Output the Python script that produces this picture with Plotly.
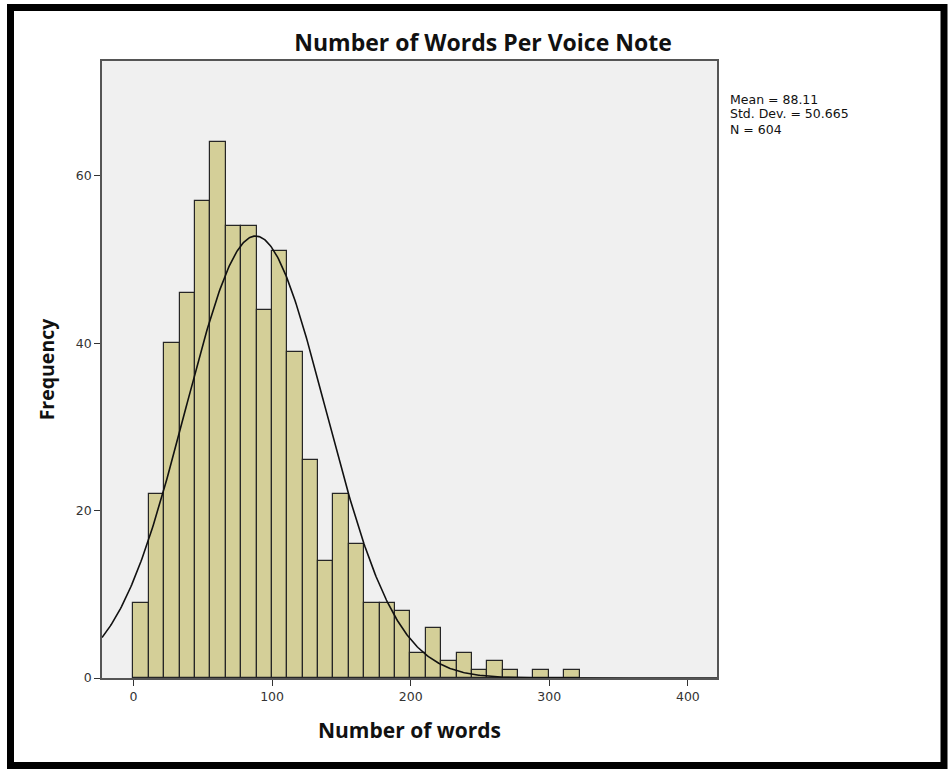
import numpy as np
import plotly.graph_objects as go

# ---- data ----
bin_start = 0.0
bin_width = 11.1
counts = [9, 22, 40, 46, 57, 64, 54, 54, 44, 51, 39, 26, 14, 22, 16,
          9, 9, 8, 3, 6, 2, 3, 1, 2, 1, 0, 1, 0, 1]
mean_val = 88.11
std_val = 50.665
n_val = 604
x_ticks = [0, 100, 200, 300, 400]
y_ticks = [0, 20, 40, 60]
stat_lines = [f"Mean = {mean_val}", f"Std. Dev. = {std_val}", f"N = {n_val}"]

# ---- layout geometry ----
W, H = 949, 769
L, R, T, B = 102, 232, 61, 91
pw, ph = W - L - R, H - T - B

def px(x):
    return (x - L) / pw

def py(y):
    return (H - B - y) / ph

x_range = [-22.7, 421]
y_range = [0, 73.7]

centers = [bin_start + bin_width * (i + 0.5) for i in range(len(counts))]

xs = np.linspace(x_range[0], x_range[1], 600)
ys = n_val * bin_width / (std_val * np.sqrt(2 * np.pi)) * np.exp(-0.5 * ((xs - mean_val) / std_val) ** 2)

fig = go.Figure()
fig.add_trace(go.Bar(
    x=centers, y=counts, width=bin_width,
    marker=dict(color="#D4CF98", line=dict(color="#262626", width=1.2)),
    hoverinfo="x+y", showlegend=False,
))
fig.add_trace(go.Scatter(
    x=xs, y=ys, mode="lines",
    line=dict(color="#111111", width=1.6), showlegend=False, hoverinfo="skip",
))

axis_common = dict(
    showgrid=False, zeroline=False, showline=True, mirror=True,
    linecolor="#555555", linewidth=1.5,
    ticks="outside", ticklen=6, tickwidth=1.3, tickcolor="#333333",
    tickfont=dict(family="DejaVu Sans", size=12.5, color="#333333"),
)

annotations = []
for i, line in enumerate(stat_lines):
    annotations.append(dict(
        text=line, xref="paper", yref="paper", x=px(728), y=py(99 + 15 * i),
        xanchor="left", yanchor="middle", align="left", showarrow=False,
        font=dict(family="DejaVu Sans", size=12.5, color="#111111"),
    ))

fig.update_layout(
    width=W, height=H,
    margin=dict(l=L, r=R, t=T, b=B, pad=0),
    paper_bgcolor="white", plot_bgcolor="#F0F0F0",
    bargap=0,
    title=dict(text="<b>Number of Words Per Voice Note</b>",
               font=dict(family="Open Sans", size=23, color="#111111"),
               x=483 / W, xanchor="center", y=1 - 43 / H, yanchor="middle"),
    xaxis=dict(range=x_range, tickvals=x_ticks, ticktext=[str(v) for v in x_ticks],
               title=dict(text="<b>Number of words</b>",
                          font=dict(family="Open Sans", size=21, color="#111111"),
                          standoff=21),
               **axis_common),
    yaxis=dict(range=y_range, tickvals=y_ticks, ticktext=[str(v) for v in y_ticks],
               title=dict(text="<b>Frequency</b>",
                          font=dict(family="Open Sans", size=19.5, color="#111111"),
                          standoff=16),
               **axis_common),
    annotations=annotations,
    shapes=[dict(
        type="rect", xref="paper", yref="paper",
        x0=px(10.5), x1=px(944), y0=py(7.5), y1=py(765.5),
        line=dict(color="black", width=7), fillcolor="rgba(0,0,0,0)",
        layer="above",
    )],
)

fig.write_html("out.html", config={"displayModeBar": False},
               post_script="document.body.style.margin='0';document.body.style.overflow='hidden';")
